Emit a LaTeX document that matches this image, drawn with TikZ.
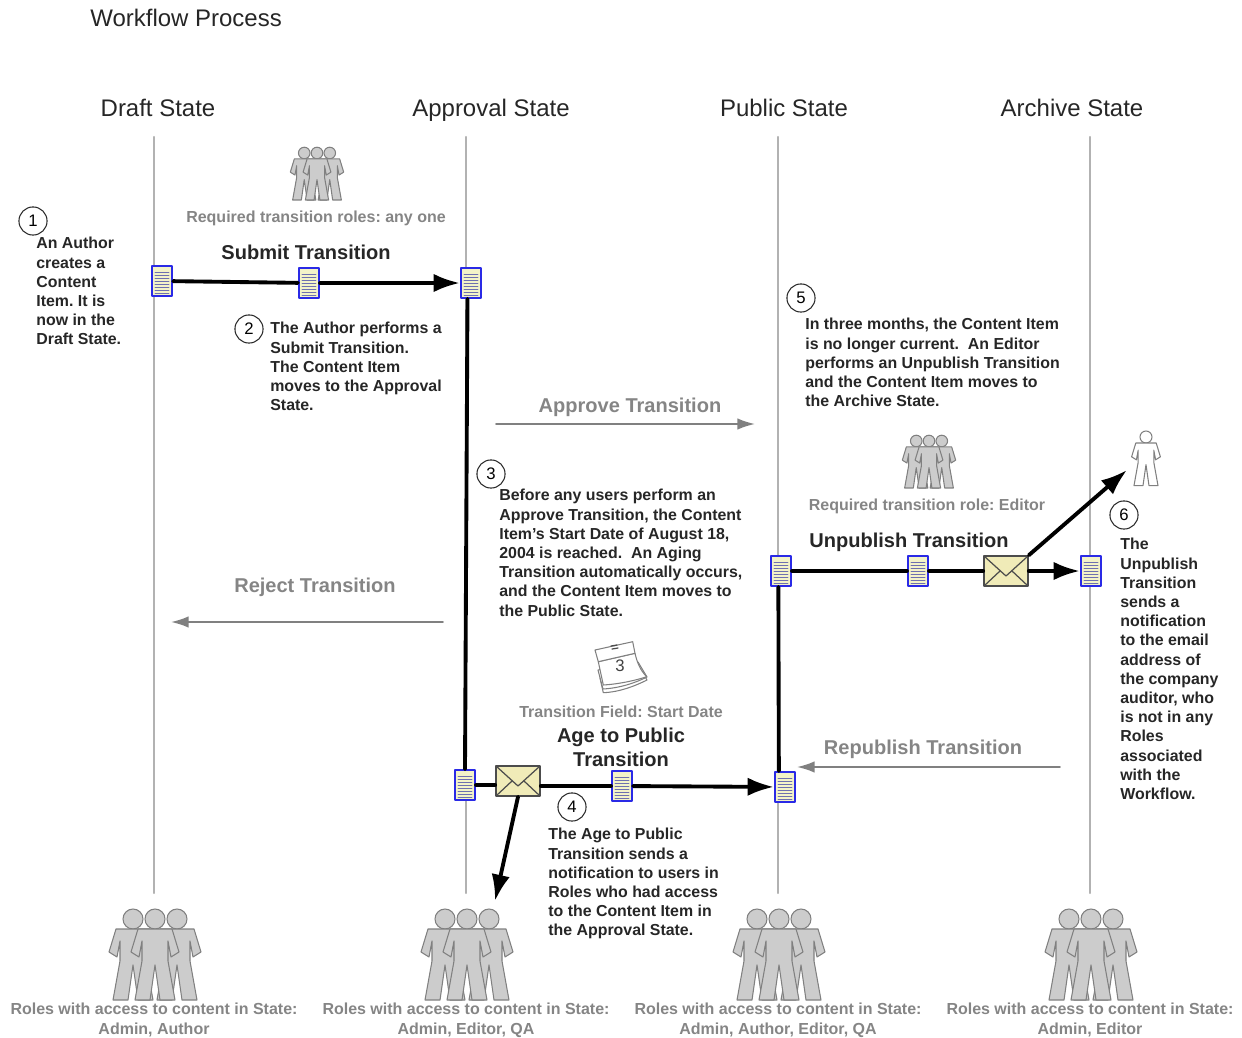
\documentclass[tikz,border=0pt]{standalone}
\usepackage{fontspec}
\setmainfont{Liberation Sans}
\usetikzlibrary{arrows.meta}
\usetikzlibrary{calc}
\usetikzlibrary{shapes.misc}
\tikzset{>={Latex[length=15pt,width=10.5pt]}}
\definecolor{lanegray}{HTML}{B2B2B2}
\definecolor{labelgray}{HTML}{858585}
\definecolor{figfill}{HTML}{CCCCCC}
\definecolor{figline}{HTML}{808080}
\definecolor{docblue}{HTML}{2A2AE6}
\definecolor{docfill}{HTML}{F3F3C8}
\definecolor{docrule}{HTML}{6E70B0}
\definecolor{mailfill}{HTML}{F0EBB8}
\tikzset{
  lane/.style={draw=lanegray, line width=1.2pt},
  flow/.style={draw=black, line width=2.2pt},
  greyflow/.style={draw=figline, line width=1pt, -{Latex[length=10pt,width=6.5pt]}},
  titletext/.style={font=\fontsize{13.65}{16}\selectfont, text=black!85, inner sep=0pt},
  bodytext/.style={font=\fontsize{9.05}{10.93}\selectfont\bfseries, text=black!85, align=left, anchor=north west, inner sep=0pt},
  transtext/.style={font=\fontsize{11.4}{13.6}\selectfont\bfseries, text=black!85, align=center, inner sep=0pt},
  greytrans/.style={font=\fontsize{11.4}{13.6}\selectfont\bfseries, text=labelgray, inner sep=0pt},
  rolestext/.style={font=\fontsize{9.1}{10.85}\selectfont\bfseries, text=labelgray, align=center, anchor=north, inner sep=0pt},
  stepnum/.style={draw=black!85, circle, line width=0.6pt, minimum size=16pt, inner sep=0pt, fill=white, font=\fontsize{9.5}{11}\selectfont},
  docicon/.style={chamfered rectangle, chamfered rectangle corners=north east,
    chamfered rectangle xsep=3pt, chamfered rectangle ysep=3pt,
    draw=docblue, line width=1.1pt, fill=docfill, minimum width=11.5pt, minimum height=17pt, inner sep=0pt,
    path picture={
      \foreach \dy in {-9,-6,...,12}
        \draw[docrule, line width=0.55pt] ($(path picture bounding box.center)+(-7,\dy)$) -- +(14,0);
    }},
  mailicon/.style={draw=black!70, line width=1pt, fill=mailfill, minimum width=25pt, minimum height=17pt, inner sep=0pt,
    path picture={
      \draw[black!70, line width=0.7pt] (path picture bounding box.north west) -- ($(path picture bounding box.center)+(0,5)$) -- (path picture bounding box.north east);
      \draw[black!70, line width=0.7pt] (path picture bounding box.south west) -- ($(path picture bounding box.center)+(-6,0)$);
      \draw[black!70, line width=0.7pt] (path picture bounding box.south east) -- ($(path picture bounding box.center)+(6,0)$);
    }},
  person/.pic={
    \draw[pic actions] (0,0) circle (10);
    \draw[pic actions, line join=round] (0,46) -- (5,81) -- (20,81) -- (13,42) -- (13,22) -- (16,38) -- (24,33) -- (17,10)
      -- (-17,10) -- (-24,33) -- (-16,38) -- (-13,22) -- (-13,42) -- (-20,81) -- (-5,81) -- cycle;
  },
  crowdpart/.style={draw=figline, fill=figfill, line width=0.6pt},
  crowd/.pic={
    \pic[crowdpart, scale=#1] at ({-22*#1},0) {person};
    \pic[crowdpart, scale=#1] at ({22*#1},0) {person};
    \pic[crowdpart, scale=#1] at (0,0) {person};
  }
}

\begin{document}
\frenchspacing
\begin{tikzpicture}[x=0.02cm, y=-0.02cm, line cap=round, line join=round]
\useasboundingbox (0,0) rectangle (1242,1038);

\node[titletext, anchor=west] (processTitle) at (90,18) {Workflow Process};
\node[titletext, anchor=base] (draftTitle) at (158,116) {Draft State};
\node[titletext, anchor=base] (approvalTitle) at (491,116) {Approval State};
\node[titletext, anchor=base] (publicTitle) at (784,116) {Public State};
\node[titletext, anchor=base] (archiveTitle) at (1072,116) {Archive State};

\coordinate (draftTop) at (154,137);
\coordinate (draftEnd) at (154,893);
\coordinate (approvalTop) at (466,137);
\coordinate (approvalEnd) at (466,893);
\coordinate (publicTop) at (778,137);
\coordinate (publicEnd) at (778,893);
\coordinate (archiveTop) at (1090,137);
\coordinate (archiveEnd) at (1090,893);
\draw[lane] (draftTop) -- (draftEnd);
\draw[lane] (approvalTop) -- (approvalEnd);
\draw[lane] (publicTop) -- (publicEnd);
\draw[lane] (archiveTop) -- (archiveEnd);

\node[docicon] (draftDoc) at (162,281) {};
\node[docicon] (submitDoc) at (309,283) {};
\node[docicon] (approvalDoc) at (471,283) {};
\node[docicon] (approvalOutDoc) at (465,785) {};
\node[mailicon] (ageMail) at (518,781) {};
\node[docicon] (ageDoc) at (622,786) {};
\node[docicon] (publicDoc) at (785,787) {};
\node[docicon] (publicOutDoc) at (781,571) {};
\node[docicon] (unpublishDoc) at (918,571) {};
\node[mailicon] (unpublishMail) at (1006,571) {};
\node[docicon] (archiveDoc) at (1091,571) {};

\coordinate (ageNotify) at (495,901);
\coordinate (auditorNotify) at (1127,470);
\draw[flow] (draftDoc) -- (submitDoc);
\draw[flow, ->] (submitDoc) -- (approvalDoc);
\draw[flow] ([xshift=-2pt]approvalDoc.south) -- (approvalOutDoc.north);
\draw[flow] (approvalOutDoc) -- (ageMail.west |- approvalOutDoc);
\draw[flow] (ageMail.east |- ageDoc) -- (ageDoc);
\draw[flow, ->] (ageDoc) -- (publicDoc);
\draw[flow, ->] (ageMail.south) -- (ageNotify);
\draw[flow] ([xshift=-3.5pt]publicDoc.north) -- ([xshift=-1.5pt]publicOutDoc.south);
\draw[flow] (publicOutDoc) -- (unpublishDoc);
\draw[flow] (unpublishDoc) -- (unpublishMail);
\draw[flow, ->] (unpublishMail) -- (archiveDoc);
\draw[flow, ->] (unpublishMail.north east) -- (auditorNotify);

\coordinate (approveFrom) at (496,424);
\coordinate (approveTo) at (755,424);
\coordinate (rejectFrom) at (443,622);
\coordinate (rejectTo) at (171,622);
\coordinate (republishFrom) at (1060,767);
\coordinate (republishTo) at (797,767);
\draw[greyflow] (approveFrom) -- (approveTo);
\draw[greyflow] (rejectFrom) -- (rejectTo);
\draw[greyflow] (republishFrom) -- (republishTo);

\node[greytrans] (approveText) at (630,407) {Approve Transition};
\node[greytrans] (rejectText) at (315,587) {Reject Transition};
\node[greytrans] (republishText) at (923,749) {Republish Transition};
\node[transtext] (submitText) at (306,252) {Submit Transition};
\node[transtext] (unpublishText) at (909,542) {Unpublish Transition};
\node[transtext] (ageText) at (621,747) {Age to Public\\Transition};

\pic at (317,153) {crowd=0.58};
\pic at (929,441) {crowd=0.58};
\pic[scale=0.6, draw=figline, fill=white, line width=0.6pt] at (1146,437) {person};
\node[rolestext, anchor=center] (anyRoleText) at (316,218) {Required transition roles: any one};
\node[rolestext, anchor=center] (editorRoleText) at (927,506) {Required transition role: Editor};
\node[rolestext, anchor=center] (fieldText) at (621,712) {Transition Field: Start Date};

\draw[figline, line width=0.6pt, fill=white] (600,678) -- (603.3,692.7) .. controls (620,692) and (635,686) .. (647,680) -- (640,668) -- cycle;
\draw[figline, line width=0.6pt, fill=white] (598,670) -- (603,689) .. controls (620,688) and (635,683) .. (647,677) -- (638,662) -- cycle;
\draw[figline, line width=0.6pt, fill=white] (598.3,661.7) -- (603.3,685) .. controls (620,684) and (637,680) .. (646.7,676.7) .. controls (640,670) and (637,662) .. (635,653.3) -- cycle;
\draw[figline, line width=0.6pt, fill=white] (595,650) -- (632.7,641.7) -- (635,653.3) -- (598.3,661.7) -- cycle;
\draw[black!70, line width=0.7pt] (611,646) -- (617,645) (612,649) -- (618,648);
\node[font=\fontsize{9.5}{11}\selectfont, text=black!75, inner sep=0pt] (calendarDay) at (620,666) {3};

\pic at (155,919) {crowd=1};
\pic at (467,919) {crowd=1};
\pic at (779,919) {crowd=1};
\pic at (1091,919) {crowd=1};
\node[rolestext] (draftRoles) at (154,1003) {Roles with access to content in State:\\Admin, Author};
\node[rolestext] (approvalRoles) at (466,1003) {Roles with access to content in State:\\Admin, Editor, QA};
\node[rolestext] (publicRoles) at (778,1003) {Roles with access to content in State:\\Admin, Author, Editor, QA};
\node[rolestext] (archiveRoles) at (1090,1003) {Roles with access to content in State:\\Admin, Editor};

\node[stepnum] (stepOne) at (33,221) {1};
\node[stepnum] (stepTwo) at (249,329) {2};
\node[stepnum] (stepThree) at (491,474) {3};
\node[stepnum] (stepFour) at (572,807) {4};
\node[stepnum] (stepFive) at (801,298) {5};
\node[stepnum] (stepSix) at (1124,515) {6};

\node[bodytext] (stepOneText) at (36,237) {An Author\\creates a\\Content\\Item. It is\\now in the\\Draft State.};
\node[bodytext] (stepTwoText) at (270,322) {The Author performs a\\Submit Transition.\\The Content Item\\moves to the Approval\\State.};
\node[bodytext] (stepThreeText) at (499,489) {Before any users perform an\\Approve Transition, the Content\\Item's Start Date of August 18,\\2004 is reached.\ \ An Aging\\Transition automatically occurs,\\and the Content Item moves to\\the Public State.};
\node[bodytext] (stepFourText) at (548,828) {The Age to Public\\Transition sends a\\notification to users in\\Roles who had access\\to the Content Item in\\the Approval State.};
\node[bodytext] (stepFiveText) at (805,318) {In three months, the Content Item\\is no longer current.\ \ An Editor\\performs an Unpublish Transition\\and the Content Item moves to\\the Archive State.};
\node[bodytext] (stepSixText) at (1120,538) {The\\Unpublish\\Transition\\sends a\\notification\\to the email\\address of\\the company\\auditor, who\\is not in any\\Roles\\associated\\with the\\Workflow.};

\end{tikzpicture}
\end{document}
